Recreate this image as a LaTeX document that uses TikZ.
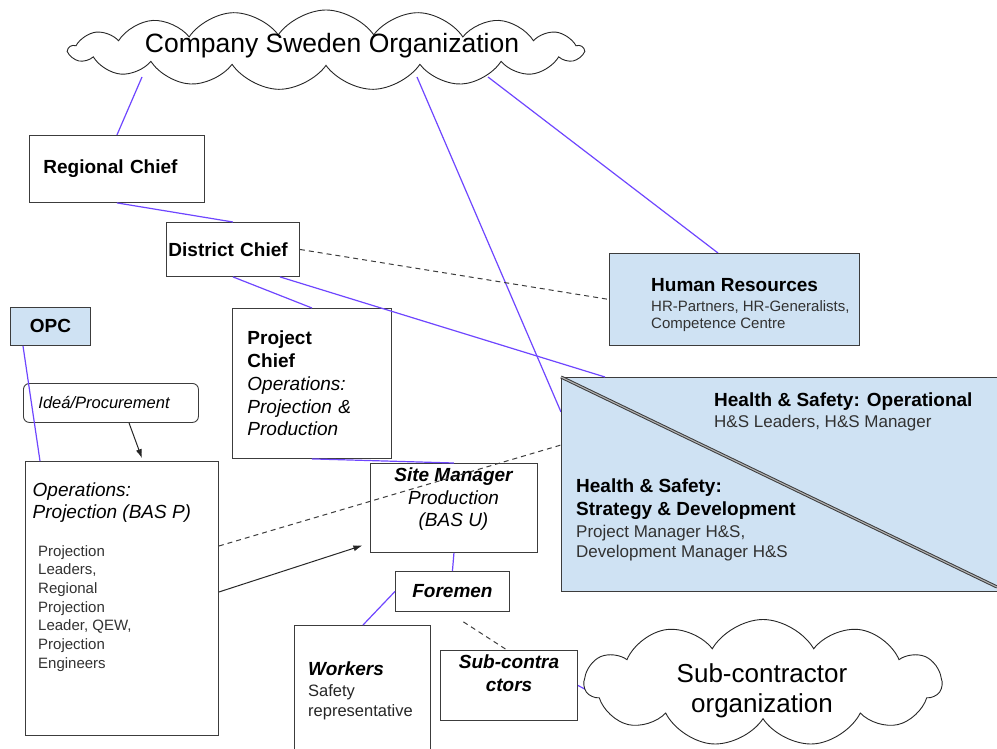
\documentclass[tikz,border=0pt]{standalone}
\usepackage{fontspec}
\setmainfont{Liberation Sans}
\usetikzlibrary{shapes.symbols,positioning,calc,arrows.meta,backgrounds}

\definecolor{linkblue}{RGB}{110,70,255}
\definecolor{hsblue}{RGB}{207,226,243}
\definecolor{boxline}{RGB}{60,60,60}
\definecolor{subgray}{RGB}{50,50,50}
\newcommand{\fsize}[2]{\fontsize{#1}{#2}\selectfont}

\begin{document}
\begin{tikzpicture}[x=1pt, y=-1pt,
    org block/.style={rectangle, draw=boxline, line width=0.9pt, fill=white, inner sep=0pt, anchor=north west},
    hs block/.style={org block, fill=hsblue},
    org cloud/.style={cloud, cloud ignores aspect, draw=black!85, line width=0.9pt, fill=white, inner sep=0pt},
    org text/.style={inner sep=0pt, align=left, anchor=north west},
    org label/.style={font=\fsize{19}{22.8}\bfseries},
    org link/.style={draw=linkblue, line width=1.2pt},
    org dash/.style={draw=boxline, line width=1pt, dash pattern=on 5pt off 4pt},
    org arrow/.style={draw=black!85, line width=1pt, -{Latex[length=9pt,width=6pt]}}]

    \clip (0,0) rectangle (997,749);

    % clouds
    \node [org cloud, cloud puffs=17, cloud puff arc=110, minimum width=514, minimum height=80] (sweden) at (326,50) {};
    \node [anchor=base, inner sep=0pt, font=\fsize{26.5}{30}] (sweden text) at (332,53) {Company Sweden Organization};
    \node [org cloud, cloud puffs=11, cloud puff arc=120, minimum width=357, minimum height=127] (subcloud) at (763,683) {};
    \node [anchor=north, inner sep=0pt, align=center, font=\fsize{26}{30}] (subcloud text) at (762,663) {Sub-contractor\\organization};

    % management chain
    \node [org block, org label, minimum height=67, text width=147, inner xsep=14, align=left] (regional) at (29,135) {Regional Chief};
    \node [org block, org label, minimum height=54, text width=129, inner xsep=2, align=left] (district) at (166,222) {District Chief};
    \node [org block, minimum height=150, text width=129, inner xsep=15, align=left, font=\fsize{19}{22.8}] (project) at (232,308)
        {\textbf{Project}\\\textbf{Chief}\\\textit{Operations:}\\\textit{Projection \&}\\\textit{Production}};
    \node [org block, minimum width=167, minimum height=89] (site) at (370,463) {};
    \node [inner sep=0pt, align=center, anchor=north, font=\fsize{19}{22.5}\itshape] (site text) at (453.5,468)
        {\textbf{Site Manager}\\Production\\(BAS U)};
    \node [org block, minimum width=114, minimum height=40, font=\fsize{19}{22.8}\bfseries\itshape] (foremen) at (395,571) {Foremen};
    \node [org block, minimum width=136, minimum height=140] (workers) at (294,625) {};
    \node [anchor=base west, inner sep=0pt, font=\fsize{19}{22.8}\bfseries\itshape] (workers title) at (308,675) {Workers};
    \node [org text, font=\fsize{16.5}{20}, text=black!85] (workers list) at (308,684) {Safety\\representative};
    \node [org block, minimum width=137, minimum height=70] (sub) at (440,650) {};
    \node [inner sep=0pt, align=center, anchor=north, font=\fsize{19}{23}\bfseries\itshape] (sub text) at (509,655) {Sub-contra\\ctors};

    % projection side
    \node [hs block, org label, minimum width=80, minimum height=38] (opc) at (10,307) {OPC};
    \node [org block, rounded corners=6pt, minimum height=39, text width=145, inner xsep=15, align=left, font=\fsize{16.5}{20}\itshape] (idea) at (23,383) {Ideá/Procurement};
    \node [org block, minimum width=193, minimum height=274] (ops) at (25,461) {};
    \node [org text, font=\fsize{19}{22}\itshape] (ops head) at (32.5,483) {Operations:\\Projection (BAS P)};
    \node [org text, font=\fsize{15}{18.7}, text=subgray] (ops list) at (38,545)
        {Projection\\Leaders,\\Regional\\Projection\\Leader, QEW,\\Projection\\Engineers};

    % staff functions
    \node [hs block, minimum width=250, minimum height=92] (hr) at (609,253) {};
    \node [anchor=base west, inner sep=0pt, org label] (hr title) at (651,291) {Human Resources};
    \node [org text, font=\fsize{15}{17}, text=subgray] (hr list) at (651,300) {HR-Partners, HR-Generalists,\\Competence Centre};

    \node [hs block, minimum width=444, minimum height=214] (hs) at (561,377) {};
    \draw [draw=boxline, line width=1pt, double=gray!60, double distance=1.1pt] (hs.north west) -- ($(hs.north west)+(436,210)$);
    \node [anchor=base west, inner sep=0pt, org label] (hs op title) at (714,406) {Health \& Safety: Operational};
    \node [anchor=base west, inner sep=0pt, font=\fsize{17}{20}, text=subgray] (hs op list) at (714,427) {H\&S Leaders, H\&S Manager};
    \node [org text, org label] (hs dev title) at (576,479) {Health \& Safety:\\Strategy \& Development};
    \node [org text, font=\fsize{17}{20}, text=subgray] (hs dev list) at (576,525) {Project Manager H\&S,\\Development Manager H\&S};

    % links from the clouds
    \begin{pgfonlayer}{background}
        \draw [org link] ($(sweden.center)+(-184,27)$) -- (regional.north);
        \draw [org link] ($(sweden.center)+(91,27)$) -- ([yshift=-35]hs.north west);
        \draw [org link] ($(sweden.center)+(162,27)$) -- ([xshift=109]hr.north west);
        \draw [org link] (sub.east) -- ($(subcloud.west)+(17,14)$);
    \end{pgfonlayer}

    \draw [org link] (regional.south) -- (district.north);
    \draw [org link] (district.south) -- (project.north);
    \draw [org link] ([xshift=47]district.south) -- ([xshift=44]hs.north west);
    \draw [org link] (project.south) -- (site.north);
    \draw [org link] (site.south) -- (foremen.north);
    \draw [org link] (foremen.west) -- ([xshift=69]workers.north west);
    \draw [org link] ([xshift=13]opc.south west) -- ([xshift=15]ops.north west);

    \draw [org dash] (district.east) -- (hr.west);
    \draw [org dash] ([yshift=-85]ops.north east) -- ([yshift=-68]hs.north west);
    \draw [org dash] ($(foremen.south)+(11,10)$) -- ([xshift=67]sub.north west);

    \draw [org arrow, shorten >=3pt] ([xshift=106]idea.south west) -- ([xshift=118]ops.north west);
    \draw [org arrow, shorten >=8pt] ([yshift=-131]ops.north east) -- ([yshift=-80]site.north west);
\end{tikzpicture}
\end{document}
